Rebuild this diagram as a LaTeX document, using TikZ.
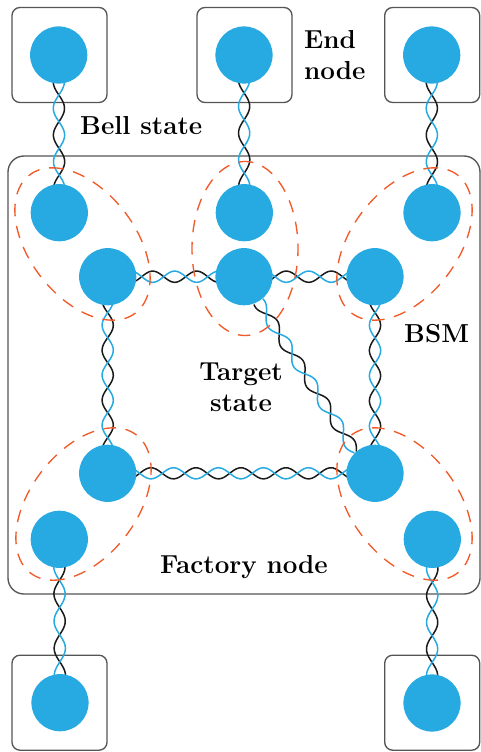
\documentclass[tikz,border=0pt]{standalone}
\usetikzlibrary{calc}
\pgfdeclarelayer{background}
\pgfsetlayers{background,main}
\definecolor{qblue}{HTML}{27AAE1}
\definecolor{qorange}{HTML}{F15A29}
\definecolor{qgray}{HTML}{555555}
\definecolor{qdark}{HTML}{1A1A1A}
\newcommand{\twistpair}[5]{%
  \draw[strandblack] let \p1=(#1), \p2=(#2), \n1={veclen(\x2-\x1,\y2-\y1)}, \n2={atan2(\y2-\y1,\x2-\x1)} in
    [shift={(\p1)},rotate=\n2] plot[smooth,samples=90,domain=0:\n1,variable=\s] ({\s pt},{(#5)*5.6*sin((\s-#3)/#4*180)*1pt});
  \draw[strandblue] let \p1=(#1), \p2=(#2), \n1={veclen(\x2-\x1,\y2-\y1)}, \n2={atan2(\y2-\y1,\x2-\x1)} in
    [shift={(\p1)},rotate=\n2] plot[smooth,samples=90,domain=0:\n1,variable=\s] ({\s pt},{-(#5)*5.6*sin((\s-#3)/#4*180)*1pt});
}
% ring: centre, x flip, y flip, rotation, semi-axes, start angle
\newcommand{\bsmellipse}[8]{%
  \draw[bsmring,shift={(#1,#2)},xscale=#3,yscale=#4,rotate=#5]
    plot[samples=180,domain=#8:#8+360,variable=\t] ({#6*cos(\t)*1pt},{#7*sin(\t)*1pt}) -- cycle;
}
\tikzset{
  qubit/.style={circle,fill=qblue,draw=none,minimum size=57.2pt,inner sep=0pt},
  endbox/.style={draw=qgray,line width=1.35pt,rounded corners=8pt,minimum size=95pt,inner sep=0pt},
  factorybox/.style={draw=qgray,line width=1.35pt,rounded corners=16pt,minimum width=472pt,minimum height=438pt,inner sep=0pt},
  strandblack/.style={draw=qdark,line width=1.5pt},
  strandblue/.style={draw=qblue,line width=1.5pt},
  bsmring/.style={draw=qorange,line width=1.35pt,dash pattern=on 12.5pt off 9.7pt,dash phase=6pt},
  label/.style={font=\fontsize{26}{31}\selectfont\bfseries,inner sep=0pt}
}
\begin{document}
\begin{tikzpicture}[x=1pt,y=-1pt]
\useasboundingbox (0,0) rectangle (480,752);
\node[qubit] (e1) at (58.7,55) {};
\node[qubit] (e2) at (244,55) {};
\node[qubit] (e3) at (431.7,55) {};
\node[qubit] (a1) at (59.3,212.7) {};
\node[qubit] (a2) at (244.3,212.7) {};
\node[qubit] (a3) at (432,212.7) {};
\node[qubit] (b1) at (107.7,276.7) {};
\node[qubit] (b2) at (244,276.7) {};
\node[qubit] (b3) at (375,276.7) {};
\node[qubit] (c1) at (107.7,473.3) {};
\node[qubit] (c3) at (375,473.3) {};
\node[qubit] (d1) at (59.3,539.3) {};
\node[qubit] (d3) at (432.3,539.3) {};
\node[qubit] (e4) at (60,702.7) {};
\node[qubit] (e5) at (432,703) {};
\begin{pgfonlayer}{background}
\node[endbox] (box1) at (59.5,55) {};
\node[endbox] (box2) at (244.5,55) {};
\node[endbox] (box3) at (432.2,55) {};
\node[endbox] (box4) at (59.5,702.7) {};
\node[endbox] (box5) at (432.2,702.7) {};
\node[factorybox] (factory) at (244,375) {};
\twistpair{e1}{a1}{40}{26.7}{1}
\twistpair{e2}{a2}{38}{26.7}{1}
\twistpair{e3}{a3}{40}{26.7}{1}
\twistpair{b1}{c1}{36}{25}{1}
\twistpair{b3}{c3}{36}{25.2}{1}
\twistpair{b1}{b2}{34}{22}{1}
\twistpair{b2}{b3}{31}{22.5}{1}
\twistpair{c1}{c3}{32}{22.5}{1}
\twistpair{d1}{e4}{41}{27.2}{-1}
\twistpair{d3}{e5}{43}{26.7}{-1}
\twistpair{b2.-60}{c3.133}{14.7}{23.7}{1}
\end{pgfonlayer}
\bsmellipse{82.5pt}{-244pt}{1}{1}{-52.5}{87}{53}{152}
\bsmellipse{245pt}{-248.5pt}{1}{1}{90}{87}{53}{0}
\bsmellipse{404.5pt}{-244pt}{-1}{1}{-52.5}{87}{53}{152}
\bsmellipse{83.5pt}{-504pt}{1}{-1}{-52.5}{87}{53}{152}
\bsmellipse{404.5pt}{-504pt}{-1}{-1}{-52.5}{87}{53}{152}
\node[label,align=left,anchor=west] (t1) at (304,55) {End\\node};
\node[label,anchor=base west] (t2) at (80,134) {Bell state};
\node[label,anchor=base west] (t3) at (404,342) {BSM};
\node[label,align=center] (t4) at (241,387) {Target\\state};
\node[label,anchor=base] (t5) at (244,573) {Factory node};
\end{tikzpicture}
\end{document}
